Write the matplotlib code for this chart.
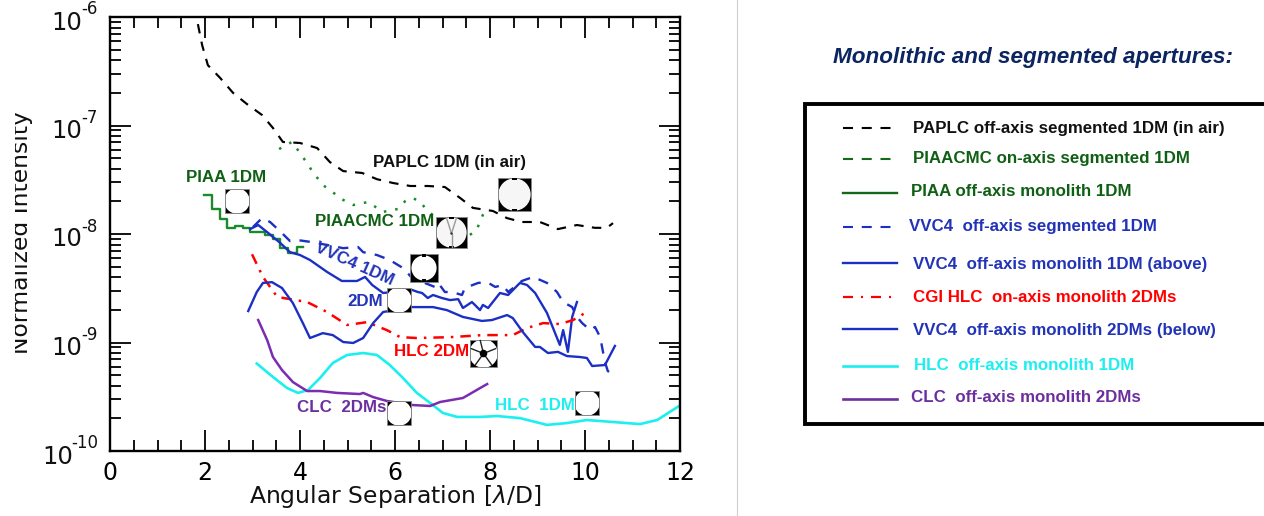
import matplotlib
matplotlib.use("Agg")
import matplotlib.pyplot as plt
from matplotlib.lines import Line2D
from matplotlib.patches import Rectangle, Circle
from matplotlib.ticker import LogLocator, NullFormatter, MultipleLocator

plt.rcParams['font.family'] = ['DejaVu Sans']
plt.rcParams['mathtext.fontset'] = 'dejavusans'
plt.rcParams['mathtext.default'] = 'regular'

# ---------- data ----------
paplc_x = [1.85,1.94,2.06,2.32,2.59,2.88,3.2,3.43,3.64,4.0,4.36,4.63,4.91,5.31,5.62,5.96,6.32,6.69,7.05,7.37,7.64,8.06,8.36,8.67,9.05,9.43,9.83,10.21,10.46,10.59]
paplc_y = [8.6e-7,5.5e-7,3.6e-7,2.74e-7,2.0e-7,1.58e-7,1.25e-7,9.5e-8,7.05e-8,6.9e-8,6.2e-8,4.6e-8,3.8e-8,3.65e-8,3.2e-8,2.95e-8,2.77e-8,2.77e-8,2.71e-8,2.15e-8,1.74e-8,1.63e-8,1.4e-8,1.29e-8,1.29e-8,1.11e-8,1.21e-8,1.14e-8,1.14e-8,1.26e-8]

piaacmc_x = [3.56,3.83,3.94,4.15,4.27,4.48,4.91,5.12,5.43,5.75,6.06,6.21,6.36,6.53,6.63,6.95,7.54,7.71,7.85,7.96]
piaacmc_y = [6.07e-8,7.05e-8,6.07e-8,4.5e-8,3.72e-8,2.83e-8,2.06e-8,1.85e-8,1.97e-8,1.6e-8,1.7e-8,2.0e-8,2.15e-8,2.0e-8,1.74e-8,1.29e-8,9.6e-9,1.07e-8,1.5e-8,1.77e-8]

piaa_x = [1.98,2.15,2.32,2.46,2.63,2.8,2.95,3.12,3.26,3.43,3.58,3.75,3.94,4.06]
piaa_y = [2.3e-8,1.7e-8,1.37e-8,1.14e-8,1.19e-8,1.14e-8,1.04e-8,1.04e-8,9.8e-9,9.0e-9,7.4e-9,6.7e-9,7.6e-9,7.6e-9]

vvc_seg_x = [3.01,3.2,3.37,3.62,3.79,3.94,4.27,4.91,5.22,5.33,5.62,5.89,6.17,6.36,6.84,6.91,7.05,7.2,7.41,7.47,7.75,7.94,8.11,8.27,8.38,8.57,8.67,8.91,9.2,9.41,9.54,9.73,9.83,9.94,10.11,10.21,10.32,10.42,10.48,10.59]
vvc_seg_y = [1.16e-8,1.4e-8,1.29e-8,1.02e-8,8.6e-9,8.8e-9,8.4e-9,7.4e-9,7.6e-9,6.8e-9,6.4e-9,5.76e-9,4.85e-9,3.93e-9,3.25e-9,3.54e-9,2.92e-9,2.92e-9,2.74e-9,3.18e-9,3.54e-9,3.6e-9,3.25e-9,3.39e-9,2.92e-9,3.39e-9,3.69e-9,4.02e-9,3.54e-9,2.92e-9,2.36e-9,2.12e-9,1.72e-9,1.51e-9,1.3e-9,1.39e-9,1.12e-9,6.6e-10,5.46e-10,5.0e-10]

vvc1_x = [2.95,3.12,3.31,3.58,3.79,4.0,4.21,4.57,4.88,5.2,5.37,5.52,5.75,6.36,6.48,6.57,6.69,6.8,6.99,7.16,7.33,7.43,7.62,7.79,7.85,7.96,8.21,8.38,8.63,8.78,8.95,9.2,9.47,9.54,9.64,9.73,9.83]
vvc1_y = [1.11e-8,1.21e-8,1.04e-8,8.3e-9,6.8e-9,6.4e-9,5.76e-9,4.47e-9,3.69e-9,3.69e-9,4.02e-9,3.39e-9,2.86e-9,3.05e-9,2.92e-9,2.86e-9,2.57e-9,2.74e-9,2.57e-9,2.46e-9,2.51e-9,2.08e-9,2.36e-9,1.99e-9,2.22e-9,2.08e-9,2.86e-9,2.74e-9,3.54e-9,3.39e-9,2.86e-9,1.87e-9,9.5e-10,1.3e-9,8.2e-10,1.72e-9,2.36e-9]

hlc2_x = [2.99,3.22,3.52,3.79,4.15,4.57,4.99,5.41,5.83,6.11,6.46,7.16,7.85,8.48,8.78,9.12,9.47,9.75,10.0]
hlc2_y = [6.5e-9,4.02e-9,2.63e-9,2.51e-9,2.36e-9,1.91e-9,1.45e-9,1.54e-9,1.3e-9,1.12e-9,1.1e-9,1.12e-9,1.17e-9,1.17e-9,1.36e-9,1.51e-9,1.48e-9,1.61e-9,1.87e-9]

vvc2_x = [2.91,3.09,3.22,3.41,3.62,3.85,4.06,4.21,4.48,4.69,4.91,5.12,5.33,5.54,5.75,6.36,6.8,7.09,7.43,7.83,8.04,8.36,8.48,8.69,8.95,9.05,9.22,9.43,9.62,9.89,10.04,10.15,10.42,10.63]
vvc2_y = [1.95e-9,2.92e-9,3.54e-9,3.6e-9,3.18e-9,2.31e-9,1.51e-9,1.1e-9,1.22e-9,1.17e-9,1.01e-9,9.9e-10,1.1e-9,1.51e-9,1.91e-9,2.12e-9,2.12e-9,1.99e-9,1.72e-9,1.58e-9,1.61e-9,1.79e-9,1.68e-9,1.25e-9,9.1e-10,9.1e-10,8.0e-10,8.2e-10,7.5e-10,7.35e-10,7.2e-10,6.07e-10,6.2e-10,9.3e-10]

hlc1_x = [3.09,3.43,3.73,3.96,4.17,4.42,4.69,4.99,5.33,5.62,5.89,6.17,6.46,6.74,7.01,7.31,7.79,8.15,8.63,9.2,9.62,10.04,10.59,11.16,11.52,11.98]
hlc1_y = [6.4e-10,4.81e-10,3.8e-10,3.43e-10,3.65e-10,4.7e-10,6.47e-10,7.67e-10,8.0e-10,7.67e-10,6.2e-10,4.7e-10,3.43e-10,2.77e-10,2.24e-10,2.06e-10,2.06e-10,2.1e-10,2.01e-10,1.74e-10,1.81e-10,1.93e-10,1.85e-10,1.77e-10,1.93e-10,2.6e-10]

clc_x = [3.12,3.31,3.43,3.62,3.85,4.15,4.42,4.78,5.26,5.33,5.54,5.83,6.38,6.74,6.95,7.43,7.79,7.94]
clc_y = [1.61e-9,1.05e-9,7.36e-10,5.58e-10,4.32e-10,3.57e-10,3.57e-10,3.43e-10,3.35e-10,3.43e-10,3.14e-10,2.89e-10,2.65e-10,2.6e-10,2.83e-10,3.08e-10,3.8e-10,4.14e-10]

y_ticks = [1e-10, 1e-9, 1e-8, 1e-7, 1e-6]
y_exponents = ["-10", "-9", "-8", "-7", "-6"]

title_text = "Monolithic and segmented apertures:"
legend_labels = ["PAPLC off-axis segmented 1DM (in air)", "PIAACMC on-axis segmented 1DM",
                 "PIAA off-axis monolith 1DM", "VVC4  off-axis segmented 1DM",
                 "VVC4  off-axis monolith 1DM (above)", "CGI HLC  on-axis monolith 2DMs",
                 "VVC4  off-axis monolith 2DMs (below)", "HLC  off-axis monolith 1DM",
                 "CLC  off-axis monolith 2DMs"]

# ---------- styles ----------
W, H = 1264, 516
BLUE = '#1C2FC4'; GREEN = '#12691A'; LGREEN = '#1B8A2A'; RED = '#FF0000'
CYAN = '#1CEFF0'; PURPLE = '#7B2CB0'; BLACK = '#000000'
TBLUE = '#2233B8'; TGREEN = '#0F5F14'; TPURPLE = '#6B2F9E'
DASH = (0, (4.4, 3.9))
DDOT = (0, (4.2, 2.8, 1, 2.8))

fig = plt.figure(figsize=(W/100, H/100), dpi=100)
ax = fig.add_axes([110/W, 1-451/H, 570/W, 434/H])
ax.set_yscale('log')
ax.set_xlim(0, 12); ax.set_ylim(1e-10, 1e-6)

ax.plot(paplc_x, paplc_y, color=BLACK, lw=1.55, ls=DASH)
ax.plot(piaacmc_x, piaacmc_y, color=LGREEN, lw=1.8, ls=(0, (1, 3.6)))
ax.plot(piaa_x, piaa_y, color=LGREEN, lw=1.7, drawstyle='steps-post')
ax.plot(vvc_seg_x, vvc_seg_y, color=BLUE, lw=1.7, ls=DASH)
ax.plot(vvc1_x, vvc1_y, color=BLUE, lw=1.7)
ax.plot(hlc2_x, hlc2_y, color=RED, lw=1.8, ls=DDOT)
ax.plot(vvc2_x, vvc2_y, color=BLUE, lw=1.7)
ax.plot(hlc1_x, hlc1_y, color=CYAN, lw=1.9)
ax.plot(clc_x, clc_y, color=PURPLE, lw=1.8)

for s in ax.spines.values():
    s.set_linewidth(1.7)
ax.xaxis.set_major_locator(MultipleLocator(2))
ax.xaxis.set_minor_locator(MultipleLocator(0.5))
ax.set_yticks(y_ticks)
ax.set_yticklabels([])
ax.yaxis.set_minor_locator(LogLocator(base=10, subs=range(2, 10), numticks=10))
ax.yaxis.set_minor_formatter(NullFormatter())
ax.tick_params(which='major', direction='in', length=15, width=1.3, top=True, right=True, pad=7)
ax.tick_params(axis='x', which='major', labelsize=17)
ax.tick_params(which='minor', direction='in', length=8, width=1.3, top=True, right=True)
ax.set_xlabel(r"Angular Separation [$\mathit{\lambda}$/D]", fontsize=16.9, labelpad=-1, color='#111111')

# y tick labels: the base and the hyphenated exponent are set side by side, as in the reference
trans = ax.get_yaxis_transform()
for val, exp in zip(y_ticks, y_exponents):
    gap = 25 if len(exp) == 3 else 16
    ax.annotate("10", xy=(0, val), xycoords=trans, xytext=(-(12 + gap) * 0.72, -5.5 * 0.72),
                textcoords='offset points', ha='right', va='center', fontsize=17.5,
                color='#111111', annotation_clip=False)
    ax.annotate(exp, xy=(0, val), xycoords=trans, xytext=(-12 * 0.72, 7.5 * 0.72),
                textcoords='offset points', ha='right', va='center', fontsize=12,
                color='#111111', annotation_clip=False)

# ---------- overlay in pixel coordinates ----------
ov = fig.add_axes([0, 0, 1, 1], zorder=5)
ov.set_xlim(0, W); ov.set_ylim(H, 0); ov.axis('off'); ov.patch.set_alpha(0)

ov.plot([737, 737], [0, H], color='#CFCFCF', lw=0.8)
ov.text(21.5, 233, "Normalized Intensity", rotation=90, ha='center', va='center', fontsize=16.9, color='#111111')
ov.add_patch(Rectangle((0, 0), 14.5, H, color='white', lw=0, zorder=3))


def icon(x0, y0, size, kind):
    sq = Rectangle((x0, y0), size, size, fc='black', ec='#888888', lw=0.6, zorder=6)
    ov.add_patch(sq)
    cx, cy = x0+size/2, y0+size/2
    r = size*0.53
    fc = 'white'
    if kind in ('hex', 'spider'):
        r = size*0.49; fc = '#F6F6F6'
    if kind == 'octa':
        r = size*0.45
    c = Circle((cx, cy), r, fc=fc, ec='none', zorder=7)
    ov.add_patch(c)
    c.set_clip_path(Rectangle((x0+0.5, y0+0.5), size-1, size-1, transform=ov.transData))
    if kind in ('hex', 'octa', 'spider'):
        n = 0.09 if kind == 'octa' else 0.05
        for dy in (-0.5, 0.5-n):
            ov.add_patch(Rectangle((cx-0.08*size, cy+dy*size), 0.16*size, n*size, fc='black', ec='none', zorder=8))
    if kind == 'spider':
        ov.plot([cx, cx-size*0.16], [cy+1, y0+1], color='#999999', lw=1.0, zorder=9)
        ov.plot([cx, cx+size*0.16], [cy+1, y0+1], color='#999999', lw=1.0, zorder=9)
        ov.plot([cx, cx], [cy+1, y0+size-1], color='#999999', lw=1.0, zorder=9)
        ov.add_patch(Circle((cx, cy+1), 1.2, fc='#333333', ec='none', zorder=10))
    if kind == 'hlc':
        for ex, ey in [(-0.45, -0.18), (0.45, -0.18), (-0.3, 0.42), (0.3, 0.42), (-0.12, -0.48)]:
            ov.plot([cx, cx+ex*size], [cy, cy+ey*size], color='#222222', lw=1.0, zorder=8)
        ov.add_patch(Circle((cx, cy), size*0.14, fc='black', ec='none', zorder=9))


icon(225, 189, 24, 'plain')
icon(498, 178, 33, 'hex')
icon(436, 217, 31, 'spider')
icon(410, 254, 28, 'octa')
icon(387, 288, 24, 'plain')
icon(470, 340, 27, 'hlc')
icon(387, 401, 24, 'plain')
icon(575, 391, 24, 'plain')

FS = 12.2
BF = dict(family='Liberation Sans', fontweight='bold', va='center', zorder=11)
ov.text(186, 177, "PIAA 1DM", color=TGREEN, fontsize=FS, ha='left', **BF)
ov.text(373, 163, "PAPLC 1DM (in air)", color='#111111', fontsize=FS, ha='left', **BF)
ov.text(315, 221, "PIAACMC 1DM", color=TGREEN, fontsize=FS, ha='left', **BF)
ov.text(354, 264, "VVC4 1DM", color=TBLUE, fontsize=FS, ha='center', rotation=-24, rotation_mode='anchor', **BF)
ov.text(347, 302, "2DM", color=TBLUE, fontsize=FS, ha='left', **BF)
ov.text(394, 351, "HLC 2DM", color=RED, fontsize=FS, ha='left', **BF)
ov.text(297, 408, "CLC  2DMs", color=TPURPLE, fontsize=FS, ha='left', **BF)
ov.text(495, 406, "HLC  1DM", color=CYAN, fontsize=FS, ha='left', **BF)

ov.text(1033, 57, title_text, color='#0B2560', fontsize=16.2, family='Liberation Sans',
        fontweight='bold', style='italic', ha='center', va='center')
ov.add_patch(Rectangle((805, 103.5), 480, 320, fc='white', ec='black', lw=2.8, zorder=1))

SEG = (0, (4.8, 4.2, 4.8, 4.2, 4.8, 4.2, 0.6, 3))
rows = [
    (128, 128, 913, BLACK, '#111111', SEG, 1.5),
    (159, 159, 913, GREEN, TGREEN, (0, (4.8, 4.2)), 1.5),
    (193, 191, 911, GREEN, TGREEN, '-', 1.7),
    (227, 227, 909, BLUE, TBLUE, SEG, 1.5),
    (263, 265, 913, BLUE, TBLUE, '-', 1.7),
    (297, 298, 913, RED, RED, (0, (4.5, 3.6, 0.9, 3.6)), 1.6),
    (329, 330, 913, BLUE, TBLUE, '-', 1.7),
    (366, 365, 914, CYAN, CYAN, '-', 1.9),
    (399, 398, 911, '#6B2F9E', TPURPLE, '-', 1.9),
]
for label, (ly, ty, tx, lc, tc, ls, lw) in zip(legend_labels, rows):
    ov.add_line(Line2D([843, 897], [ly, ly], color=lc, ls=ls, lw=lw, zorder=4))
    ov.text(tx, ty, label, color=tc, fontsize=12.2, ha='left', **BF)

fig.savefig("out.png", dpi=100)
